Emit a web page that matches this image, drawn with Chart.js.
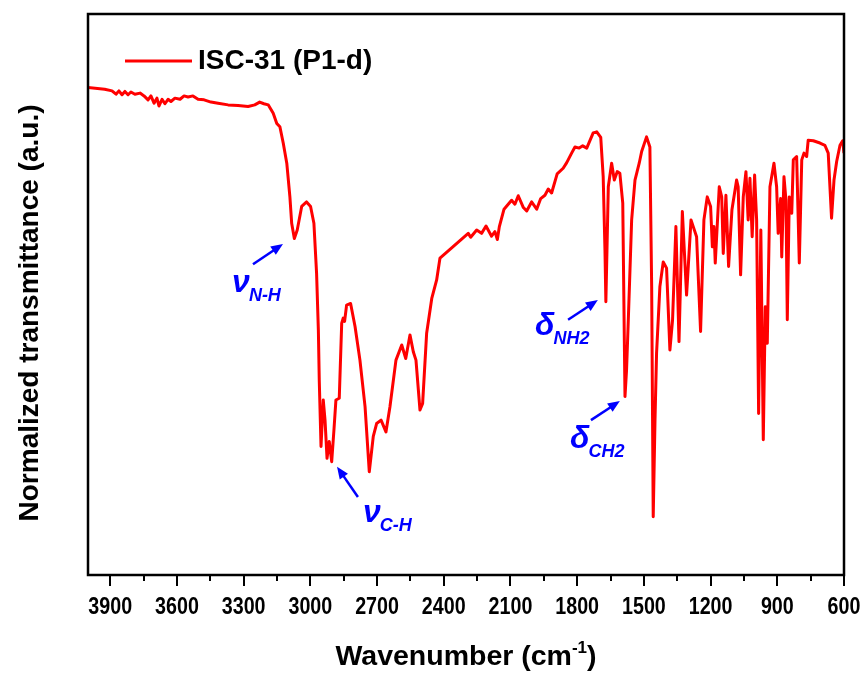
<!DOCTYPE html>
<html>
<head>
<meta charset="utf-8">
<script src="https://cdn.jsdelivr.net/npm/chart.js@4.4.1/dist/chart.umd.min.js"></script>
<style>
  body { margin: 0; background: #fff; }
  #wrap { width: 868px; height: 675px; }
</style>
</head>
<body>
<div id="wrap"><canvas id="ftir" width="868" height="675"></canvas></div>
<script>
// wavenumber (cm-1)
const wavenumbers = [
  4000, 3925, 3892, 3874, 3861, 3847, 3834, 3820, 3807, 3789,
  3766, 3748, 3730, 3717, 3703, 3690, 3681, 3667, 3654, 3640,
  3627, 3609, 3586, 3568, 3550, 3528, 3505, 3478, 3447, 3415,
  3370, 3325, 3280, 3250, 3228, 3209, 3189, 3167, 3151, 3137,
  3122, 3106, 3092, 3084, 3072, 3059, 3039, 3017, 2999, 2984,
  2972, 2964, 2960, 2952, 2942, 2934, 2925, 2915, 2904, 2894,
  2885, 2870, 2859, 2852, 2846, 2837, 2819, 2799, 2777, 2754,
  2735, 2717, 2702, 2682, 2660, 2642, 2615, 2589, 2571, 2552,
  2537, 2525, 2507, 2495, 2477, 2454, 2432, 2417, 2290, 2279,
  2252, 2230, 2210, 2185, 2170, 2159, 2150, 2129, 2095, 2080,
  2065, 2042, 2027, 2005, 1982, 1964, 1945, 1930, 1915, 1890,
  1863, 1847, 1825, 1810, 1791, 1775, 1757, 1728, 1712, 1694,
  1683, 1675, 1671, 1666, 1660, 1645, 1633, 1620, 1608, 1595,
  1590, 1585, 1578, 1570, 1555, 1540, 1521, 1510, 1488, 1473,
  1465, 1458, 1450, 1443, 1428, 1413, 1398, 1383, 1371, 1356,
  1342, 1327, 1308, 1288, 1278, 1263, 1245, 1230, 1215, 1200,
  1192, 1185, 1179, 1161, 1150, 1143, 1131, 1119, 1104, 1083,
  1076, 1065, 1053, 1041, 1031, 1023, 1013, 1002, 993, 984,
  974, 963, 954, 945, 933, 915, 903, 896, 885, 880,
  870, 861, 855, 846, 835, 828, 813, 801, 790, 780,
  768, 761, 738, 708, 686, 671, 656, 645, 633, 618,
  606, 600,
];

// normalized transmittance (a.u., 0-100)
const transmittance = [
  86.9, 86.6, 86.3, 85.7, 86.3, 85.6, 86.2, 85.6, 86.1, 85.7,
  85.9, 85.4, 84.7, 85.4, 84.1, 85.0, 83.6, 84.8, 84.0, 84.8,
  84.4, 85.0, 84.8, 85.4, 85.2, 85.4, 84.8, 84.7, 84.3, 84.1,
  83.8, 83.7, 83.5, 83.8, 84.3, 84.0, 83.8, 82.3, 80.5, 79.9,
  77.0, 73.4, 67.4, 62.7, 60.0, 61.5, 65.7, 66.5, 65.7, 62.7,
  53.8, 43.7, 34.8, 22.9, 31.2, 27.6, 20.8, 23.8, 20.2, 25.8,
  31.2, 31.5, 44.9, 45.8, 45.2, 48.1, 48.4, 44.3, 38.3, 30.0,
  18.4, 24.7, 27.0, 27.6, 25.5, 30.0, 38.3, 41.0, 38.6, 42.8,
  39.8, 38.3, 29.4, 30.6, 43.1, 49.3, 52.6, 56.5, 60.9, 60.2,
  61.5, 60.9, 62.2, 60.4, 61.2, 59.8, 62.1, 65.2, 66.8, 66.1,
  67.6, 65.5, 64.9, 66.5, 65.2, 67.1, 67.7, 68.8, 68.1, 71.5,
  72.5, 73.5, 75.2, 76.3, 76.1, 76.5, 76.1, 78.8, 79.0, 78.0,
  71.0, 57.9, 48.7, 57.9, 69.2, 73.4, 70.4, 71.9, 71.6, 66.3,
  49.0, 31.8, 36.5, 45.5, 63.3, 70.4, 73.4, 75.5, 78.1, 76.3,
  51.4, 10.4, 27.6, 39.5, 51.4, 55.8, 54.7, 40.1, 45.5, 62.1,
  41.6, 64.8, 49.9, 63.3, 62.1, 60.3, 43.4, 63.3, 67.4, 65.7,
  58.5, 62.1, 55.6, 69.2, 67.4, 57.3, 67.7, 55.0, 65.1, 70.4,
  69.2, 53.5, 67.4, 71.9, 63.3, 70.7, 60.3, 71.3, 63.3, 28.8,
  61.5, 24.1, 47.8, 41.3, 69.2, 73.4, 69.2, 60.9, 67.1, 56.7,
  71.0, 66.8, 45.5, 67.4, 64.5, 74.0, 74.6, 55.6, 74.0, 75.2,
  74.6, 77.5, 77.4, 77.0, 76.6, 75.2, 63.6, 70.4, 73.7, 76.6,
  77.4, 75.2,
];

// x ticks every 150, labelled every 300
const tickValues = [
  3900, 3750, 3600, 3450, 3300, 3150, 3000, 2850, 2700, 2550, 2400, 2250,
  2100, 1950, 1800, 1650, 1500, 1350, 1200, 1050, 900, 750, 600,
];
const labelledTicks = [3900, 3600, 3300, 3000, 2700, 2400, 2100, 1800, 1500, 1200, 900, 600];

const seriesName = "ISC-31 (P1-d)";

// band assignments: text anchor and arrow, in data units
const bandLabels = [
  { symbol: "ν", sub: "N-H", at: [3352, 50.4], from: [3258, 55.4], to: [3123, 59.0] },
  { symbol: "ν", sub: "C-H", at: [2763, 9.4], from: [2786, 13.9], to: [2880, 19.3] },
  { symbol: "δ", sub: "NH2", at: [1990, 42.8], from: [1841, 45.5], to: [1707, 49.0] },
  { symbol: "δ", sub: "CH2", at: [1832, 22.6], from: [1738, 27.6], to: [1608, 31.0] },
];

if (wavenumbers.length !== transmittance.length) {
  throw new Error("length mismatch " + wavenumbers.length + " vs " + transmittance.length);
}

const FONT = "'Liberation Sans', Arial, sans-serif";
const RED = "#ff0000";
const BLUE = "#0000ff";

function drawArrow(ctx, x1, y1, x2, y2) {
  const ang = Math.atan2(y2 - y1, x2 - x1);
  const len = 12;
  const half = 5;
  const cos = Math.cos(ang);
  const sin = Math.sin(ang);
  ctx.beginPath();
  ctx.moveTo(x1, y1);
  ctx.lineTo(x2 - len * 0.7 * cos, y2 - len * 0.7 * sin);
  ctx.stroke();
  ctx.beginPath();
  ctx.moveTo(x2, y2);
  ctx.lineTo(x2 - len * cos + half * sin, y2 - len * sin - half * cos);
  ctx.lineTo(x2 - len * cos - half * sin, y2 - len * sin + half * cos);
  ctx.closePath();
  ctx.fill();
}

const decorations = {
  id: "decorations",
  afterDraw(chart) {
    const { ctx, chartArea: a } = chart;
    const x = chart.scales.x;
    const y = chart.scales.y;
    ctx.save();

    // tick marks below the frame
    ctx.strokeStyle = "#000";
    ctx.lineWidth = 2;
    tickValues.forEach((v) => {
      const px = Math.round(x.getPixelForValue(v));
      const len = labelledTicks.includes(v) ? 11 : 6;
      ctx.beginPath();
      ctx.moveTo(px, a.bottom);
      ctx.lineTo(px, a.bottom + len);
      ctx.stroke();
    });

    // tick labels, narrow bold digits
    ctx.fillStyle = "#000";
    ctx.font = "bold 24px " + FONT;
    ctx.textAlign = "center";
    ctx.textBaseline = "alphabetic";
    labelledTicks.forEach((v) => {
      const px = x.getPixelForValue(v);
      ctx.save();
      ctx.translate(px, 614);
      ctx.scale(0.82, 1);
      ctx.fillText(String(v), 0, 0);
      ctx.restore();
    });

    // frame
    ctx.lineWidth = 2.5;
    ctx.strokeRect(a.left, a.top, a.right - a.left, a.bottom - a.top);

    // x title with superscript
    ctx.textAlign = "left";
    const big = "bold 28.5px " + FONT;
    const small = "bold 17px " + FONT;
    ctx.font = big;
    const w1 = ctx.measureText("Wavenumber (cm").width;
    const w3 = ctx.measureText(")").width;
    ctx.font = small;
    const w2 = ctx.measureText("-1").width;
    const tx = (a.left + a.right) / 2 - (w1 + w2 + w3) / 2;
    const ty = 665;
    ctx.font = big;
    ctx.fillText("Wavenumber (cm", tx, ty);
    ctx.font = small;
    ctx.fillText("-1", tx + w1, ty - 12);
    ctx.font = big;
    ctx.fillText(")", tx + w1 + w2, ty);

    // y title
    ctx.save();
    ctx.translate(30, 313);
    ctx.rotate(-Math.PI / 2);
    ctx.textAlign = "center";
    ctx.textBaseline = "middle";
    ctx.font = "bold 28px " + FONT;
    ctx.fillText("Normalized transmittance (a.u.)", 0, 0);
    ctx.restore();

    // legend
    ctx.strokeStyle = RED;
    ctx.lineWidth = 3;
    ctx.beginPath();
    ctx.moveTo(125, 61);
    ctx.lineTo(192, 61);
    ctx.stroke();
    ctx.fillStyle = "#000";
    ctx.font = "bold 28px " + FONT;
    ctx.textBaseline = "middle";
    ctx.fillText(seriesName, 198, 61);

    // band labels
    ctx.fillStyle = BLUE;
    ctx.strokeStyle = BLUE;
    ctx.lineWidth = 2.5;
    ctx.textBaseline = "alphabetic";
    bandLabels.forEach((b) => {
      const sx = x.getPixelForValue(b.at[0]);
      const sy = y.getPixelForValue(b.at[1]);
      ctx.font = "italic bold 32px " + FONT;
      ctx.fillText(b.symbol, sx, sy);
      const sw = ctx.measureText(b.symbol).width;
      ctx.font = "italic bold 18px " + FONT;
      ctx.fillText(b.sub, sx + sw - 1, sy + 9);
      drawArrow(
        ctx,
        x.getPixelForValue(b.from[0]), y.getPixelForValue(b.from[1]),
        x.getPixelForValue(b.to[0]), y.getPixelForValue(b.to[1])
      );
    });

    ctx.restore();
  },
};

function SpectrumChart(ctx) {
  return new Chart(ctx, {
    type: "line",
    plugins: [decorations],
    data: {
      datasets: [
        {
          label: seriesName,
          data: wavenumbers.map((w, i) => ({ x: w, y: transmittance[i] })),
          borderColor: RED,
          borderWidth: 3,
          pointRadius: 0,
          tension: 0,
          borderJoinStyle: "round",
          fill: false,
        },
      ],
    },
    options: {
      responsive: false,
      animation: false,
      layout: {
        padding: { top: 14, right: 24, left: 0, bottom: 0 },
      },
      plugins: {
        legend: { display: false },
        tooltip: { enabled: false },
      },
      scales: {
        x: {
          type: "linear",
          min: 600,
          max: 4000,
          reverse: true,
          afterBuildTicks: (scale) => {
            scale.ticks = tickValues.map((v) => ({ value: v }));
          },
          afterFit: (scale) => {
            scale.height = 100;
            scale.paddingLeft = 0;
            scale.paddingRight = 0;
          },
          grid: { display: false, drawTicks: false },
          border: { display: false },
          ticks: { display: false },
        },
        y: {
          min: 0,
          max: 100,
          afterFit: (scale) => {
            scale.width = 88;
          },
          grid: { display: false, drawTicks: false },
          border: { display: false },
          ticks: { display: false },
        },
      },
    },
  });
}

SpectrumChart(document.getElementById("ftir"));
</script>
</body>
</html>
